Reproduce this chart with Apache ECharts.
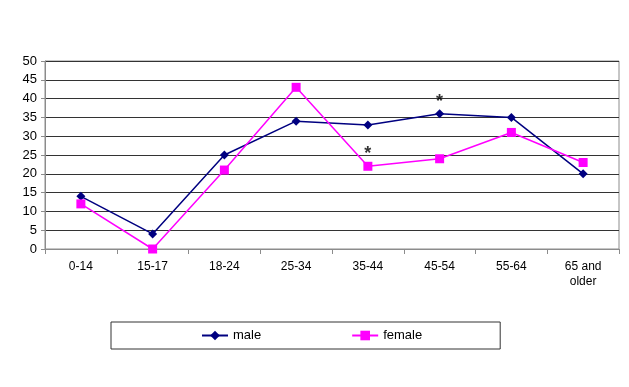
<!DOCTYPE html>
<html>
<head>
<meta charset="utf-8">
<script src="https://cdn.jsdelivr.net/npm/echarts@6/dist/echarts.min.js"></script>
<style>html,body{margin:0;padding:0;background:#fff}#c{width:629px;height:387px}</style>
</head>
<body>
<div id="c"></div>
<script>
var categories = ['0-14', '15-17', '18-24', '25-34', '35-44', '45-54', '55-64', '65 and\nolder'];
var maleValues = [14, 4, 25, 34, 33, 36, 35, 20];
var femaleValues = [12, 0, 21, 43, 22, 24, 31, 23];
var asteriskPoints = [[4, 25.2], [5, 39]];
var yTicks = {min: 0, max: 50, interval: 5};

var chart = echarts.init(document.getElementById('c'));
chart.setOption({
  animation: false,
  backgroundColor: '#fff',
  textStyle: {fontFamily: 'Liberation Sans, Arial, sans-serif'},
  grid: {left: 45, right: 10, top: 61, bottom: 138, show: true, borderColor: '#8c8c8c', borderWidth: 1, backgroundColor: 'transparent'},
  legend: {
    data: ['male', 'female'],
    left: 111, top: 322,
    padding: [7, 78, 7, 90],
    itemGap: 90,
    itemWidth: 26, itemHeight: 12,
    borderColor: '#333', borderWidth: 1,
    textStyle: {fontSize: 13, color: '#000', fontFamily: 'Liberation Sans, Arial, sans-serif'}
  },
  xAxis: {
    type: 'category',
    data: categories,
    boundaryGap: true,
    axisLine: {lineStyle: {color: '#8c8c8c'}},
    axisTick: {show: true, alignWithLabel: false, length: 5, lineStyle: {color: '#8c8c8c'}},
    axisLabel: {fontSize: 12, color: '#000', margin: 10, lineHeight: 15, interval: 0},
    splitLine: {show: false}
  },
  yAxis: {
    type: 'value',
    min: yTicks.min, max: yTicks.max, interval: yTicks.interval,
    axisLine: {show: true, lineStyle: {color: '#8c8c8c'}},
    axisTick: {show: true, length: 4, lineStyle: {color: '#8c8c8c'}},
    axisLabel: {fontSize: 13, color: '#000', margin: 8},
    splitLine: {lineStyle: {color: '#333', width: 1}}
  },
  series: [
    {
      name: 'male', type: 'line', data: maleValues,
      symbol: 'diamond', symbolSize: 9,
      lineStyle: {color: '#000080', width: 1.5},
      itemStyle: {color: '#000080'}
    },
    {
      name: 'female', type: 'line', data: femaleValues,
      symbol: 'rect', symbolSize: 9,
      lineStyle: {color: '#ff00ff', width: 1.5},
      itemStyle: {color: '#ff00ff'}
    },
    {
      name: 'note', type: 'scatter', data: asteriskPoints,
      symbolSize: 1, itemStyle: {color: 'rgba(0,0,0,0)'}, silent: true,
      label: {show: true, formatter: '*', position: 'inside', fontSize: 18, fontWeight: 'bold', color: '#000'}
    }
  ]
});
</script>
</body>
</html>
